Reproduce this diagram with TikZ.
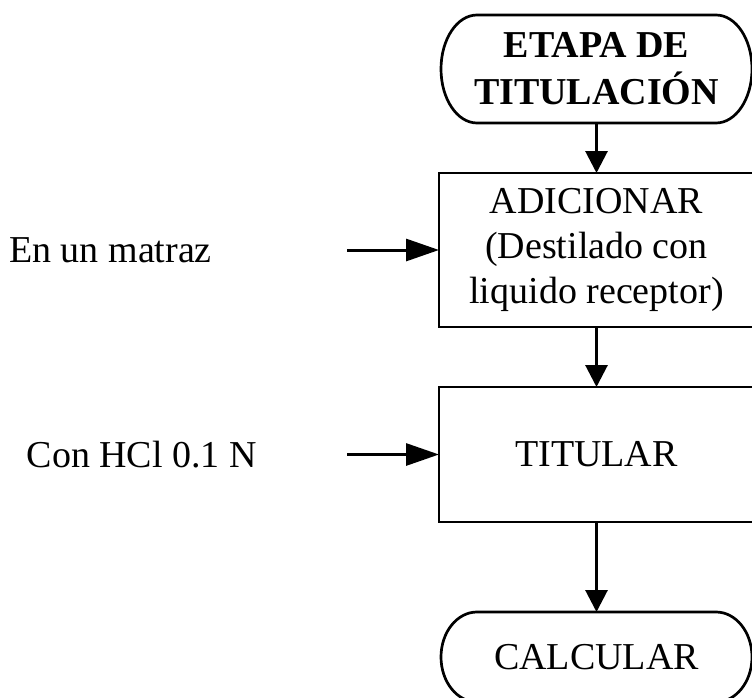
\documentclass[tikz,border=0pt]{standalone}
\usepackage{fontspec}
\setmainfont{Liberation Serif}
\usetikzlibrary{arrows.meta,positioning}

\begin{document}
\begin{tikzpicture}[
  x=1pt, y=-1pt,
  box/.style={rectangle, draw, line width=2.7pt, minimum width=315pt, align=center, inner sep=0pt, outer sep=0pt, font=\fontsize{38}{45}\selectfont},
  term/.style={box, draw=none, minimum width=311pt},
  border/.style={line width=2.7pt},
  lbl/.style={inner sep=0pt, font=\fontsize{38}{45}\selectfont},
  arrow/.style={-{Triangle[length=22pt,width=22pt]}, line width=3pt},
  inarrow/.style={-{Triangle[length=33pt,width=22pt]}, line width=3pt}
]
  \useasboundingbox (0,0) rectangle (752,698);
  \clip (0,0) rectangle (752,698);
  \node[term, minimum height=108pt, font=\fontsize{38}{47}\selectfont\bfseries] (etapa) at (596.5,69) {ETAPA DE\\TITULACIÓN};
  \node[box, minimum height=154pt, below=50pt of etapa] (adic) {ADICIONAR\\(Destilado con\\liquido receptor)};
  \node[box, minimum height=135pt, below=60pt of adic] (titular) {TITULAR};
  \node[term, minimum height=90pt, below=90pt of titular] (calc) {CALCULAR};
  % terminal outlines with elliptic ends
  \draw[border] ([xshift=36pt]etapa.north west) -- ([xshift=-36pt]etapa.north east)
    arc[start angle=90, end angle=-90, x radius=36pt, y radius=54pt]
    -- ([xshift=36pt]etapa.south west)
    arc[start angle=270, end angle=90, x radius=36pt, y radius=54pt] -- cycle;
  \draw[border] ([xshift=36pt]calc.north west) -- ([xshift=-36pt]calc.north east)
    arc[start angle=90, end angle=-90, x radius=36pt, y radius=45pt]
    -- ([xshift=36pt]calc.south west)
    arc[start angle=270, end angle=90, x radius=36pt, y radius=45pt] -- cycle;
  \coordinate[left=92pt of adic.west] (in1);
  \coordinate[left=92pt of titular.west] (in2);
  \node[lbl, left=135pt of in1] (matraz) {En un matraz};
  \node[lbl, left=90pt of in2] (hcl) {Con HCl 0.1 N};
  \draw[arrow] (etapa) -- (adic);
  \draw[arrow] (adic) -- (titular);
  \draw[arrow] (titular) -- (calc);
  \draw[inarrow] (in1) -- (adic);
  \draw[inarrow] (in2) -- (titular);
\end{tikzpicture}
\end{document}
